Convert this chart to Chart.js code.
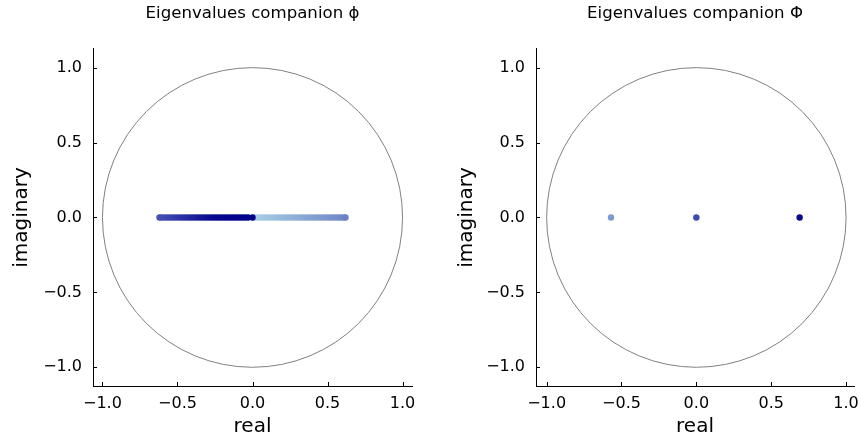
<!DOCTYPE html>
<html>
<head>
<meta charset="utf-8">
<script src="https://cdn.jsdelivr.net/npm/chart.js@4.4.1/dist/chart.umd.min.js"></script>
<style>
  body { margin: 0; background: #fff; overflow: hidden; }
  #left, #right { position: absolute; top: 0; }
  #left { left: 0; }
  #right { left: 445px; }
</style>
</head>
<body>
<canvas id="left" width="445" height="443"></canvas>
<canvas id="right" width="416" height="443"></canvas>
<script>
// eigenvalues of companion phi (real parts, ordered as plotted)
const phiRe = [
  0.01, 0.03, 0.05, 0.07, 0.09, 0.11, 0.13, 0.15, 0.17, 0.19, 0.21, 0.23, 0.25, 0.27, 0.29, 0.31,
  0.33, 0.35, 0.37, 0.39, 0.41, 0.43, 0.45, 0.47, 0.49, 0.51, 0.53, 0.55, 0.57, 0.59, 0.61, 0.62,
  -0.62, -0.61, -0.59, -0.57, -0.55, -0.53, -0.51, -0.49, -0.47, -0.45, -0.43, -0.41, -0.39, -0.37, -0.35, -0.33,
  -0.31, -0.29, -0.27, -0.25, -0.23, -0.21, -0.19, -0.17, -0.15, -0.13, -0.11, -0.09, -0.07, -0.05, -0.03, 0.0
];
const phiIm = phiRe.map(() => 0);

// eigenvalues of companion Phi
const bigPhiRe = [-0.57, 0.0, 0.69];
const bigPhiIm = [0, 0, 0];

const tickValues = [-1.0, -0.5, 0.0, 0.5, 1.0];

// colour ramp, light -> dark (position, rgb)
const stops = [
  [0.0, [168, 208, 228]],
  [0.49, [112, 134, 200]],
  [0.51, [70, 84, 180]],
  [0.8, [8, 8, 142]],
  [1.0, [0, 0, 139]]
];
function rampColor(t) {
  let k = 0;
  while (k < stops.length - 2 && t > stops[k + 1][0]) k++;
  const [p0, a] = stops[k], [p1, b] = stops[k + 1];
  const f = Math.min(1, Math.max(0, (t - p0) / (p1 - p0)));
  const c = a.map((v, i) => Math.round(v + (b[i] - v) * f));
  return `rgb(${c[0]}, ${c[1]}, ${c[2]})`;
}

const FONT = "'DejaVu Sans', sans-serif";

const circleAndTicks = {
  id: 'circleAndTicks',
  beforeDatasetsDraw(chart) {
    const { ctx, scales: { x, y } } = chart;
    const cx = x.getPixelForValue(0), cy = y.getPixelForValue(0);
    const rx = x.getPixelForValue(1) - cx, ry = cy - y.getPixelForValue(1);
    ctx.save();
    ctx.strokeStyle = '#808080';
    ctx.lineWidth = 1;
    ctx.beginPath();
    ctx.ellipse(cx, cy, rx, ry, 0, 0, Math.PI * 2);
    ctx.stroke();
    ctx.restore();
  },
  afterDraw(chart) {
    const { ctx, chartArea: area, scales: { x, y } } = chart;
    ctx.save();
    ctx.strokeStyle = '#000';
    ctx.lineWidth = 1;
    ctx.beginPath();
    tickValues.forEach(v => {
      const px = Math.round(x.getPixelForValue(v)) + 0.5;
      ctx.moveTo(px, area.bottom);
      ctx.lineTo(px, area.bottom - 4);
      const py = Math.round(y.getPixelForValue(v)) + 0.5;
      ctx.moveTo(area.left, py);
      ctx.lineTo(area.left + 4, py);
    });
    ctx.stroke();
    ctx.restore();
  }
};

const fmt = v => (v < -1e-9 ? '\u2212' : '') + Math.abs(v).toFixed(1);

function makeChart(id, title, re, im, colors, xMin, xMax, yWidth, padRight) {
  const points = re.map((r, i) => ({ x: r, y: im[i] }));
  return new Chart(document.getElementById(id), {
    type: 'scatter',
    data: {
      datasets: [{
        data: points,
        pointRadius: 3.2,
        pointHoverRadius: 3.2,
        borderWidth: 0,
        pointBackgroundColor: colors,
        pointBorderColor: colors
      }]
    },
    options: {
      responsive: false,
      animation: false,
      layout: { padding: { left: 0, right: padRight, top: 0, bottom: 0 } },
      plugins: {
        legend: { display: false },
        tooltip: { enabled: false },
        title: {
          display: true,
          text: title,
          fullSize: false,
          color: '#000',
          font: { family: FONT, size: 16.6, weight: 'normal' },
          padding: { top: 4, bottom: 25 }
        }
      },
      scales: {
        x: {
          type: 'linear',
          min: xMin,
          max: xMax,
          grid: { display: false, drawTicks: false },
          border: { display: true, color: '#000', width: 1 },
          ticks: {
            stepSize: 0.5,
            includeBounds: false,
            padding: 8,
            color: '#000',
            font: { family: FONT, size: 16 },
            maxRotation: 0,
            callback: fmt
          },
          title: {
            display: true,
            text: 'real',
            color: '#000',
            font: { family: FONT, size: 20 },
            padding: { top: 0, bottom: 4 }
          },
          afterFit: s => { s.height = 57; s.paddingRight = 0; s.paddingLeft = 0; }
        },
        y: {
          type: 'linear',
          min: -1.125,
          max: 1.125,
          grid: { display: false, drawTicks: false },
          border: { display: true, color: '#000', width: 1 },
          ticks: {
            stepSize: 0.5,
            includeBounds: false,
            padding: 11,
            color: '#000',
            font: { family: FONT, size: 16 },
            callback: fmt
          },
          title: {
            display: true,
            text: 'imaginary',
            color: '#000',
            font: { family: FONT, size: 20 },
            padding: { top: 10, bottom: 0 }
          },
          afterFit: s => { s.width = yWidth; s.paddingTop = 0; s.paddingBottom = 0; }
        }
      }
    },
    plugins: [circleAndTicks]
  });
}

const phiColors = phiRe.map((_, i) => rampColor(i / (phiRe.length - 1)));
const bigPhiColors = ['rgb(123, 155, 208)', 'rgb(59, 76, 174)', 'rgb(10, 10, 140)'];

makeChart('left', 'Eigenvalues companion \u03D5', phiRe, phiIm, phiColors, -1.063, 1.063, 93, 33);
makeChart('right', 'Eigenvalues companion \u03A6', bigPhiRe, bigPhiIm, bigPhiColors, -1.071, 1.053, 91, 7);
</script>
</body>
</html>
